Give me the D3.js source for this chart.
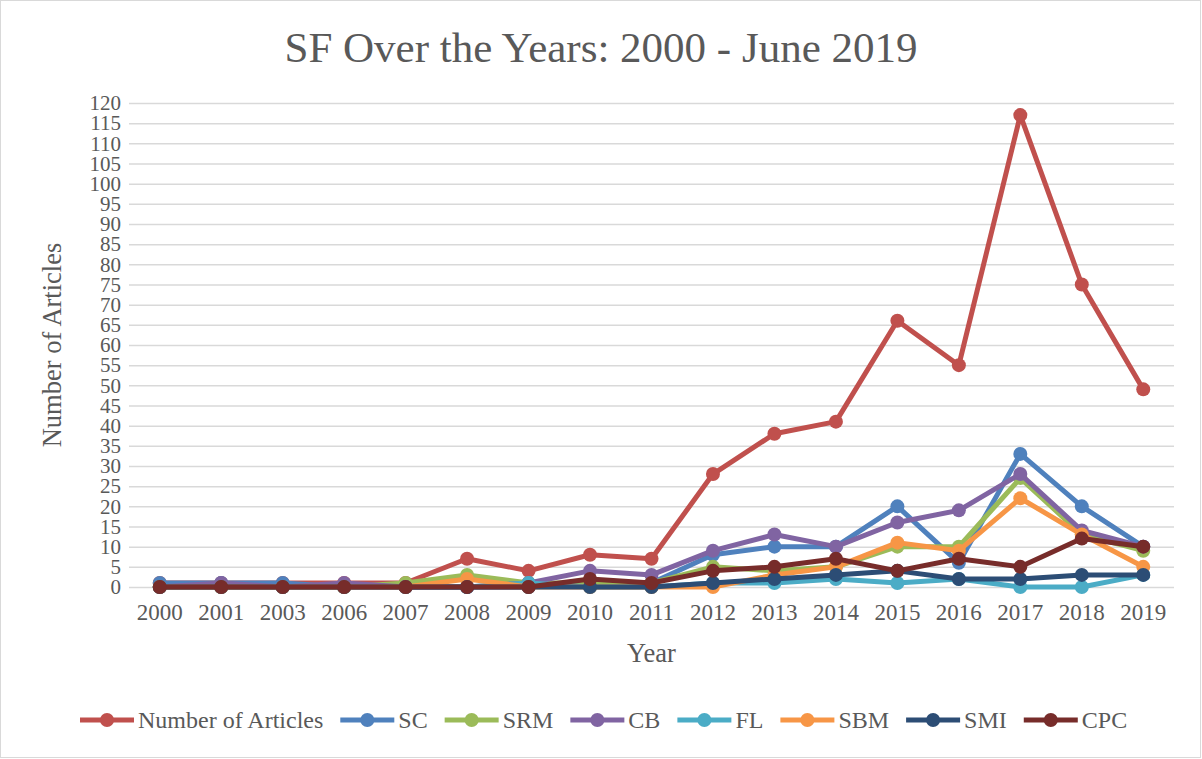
<!DOCTYPE html>
<html>
<head>
<meta charset="utf-8">
<script src="https://cdn.jsdelivr.net/npm/d3@7"></script>
<style>
  body { margin: 0; background: #fff; }
  svg { display: block; font-family: "Liberation Serif", "Times New Roman", serif; }
  .axis .domain { display: none; }
  .axis text { fill: #595959; font-family: "Liberation Serif", serif; }
</style>
</head>
<body>
<div id="chart"></div>
<script>
'use strict';

var years = ['2000', '2001', '2003', '2006', '2007', '2008', '2009', '2010', '2011',
    '2012', '2013', '2014', '2015', '2016', '2017', '2018', '2019'];
var seriesNames = ['Number of Articles', 'SC', 'SRM', 'CB', 'FL', 'SBM', 'SMI', 'CPC'];
var seriesColors = ['#C0504D', '#4F81BD', '#9BBB59', '#8064A2', '#4BACC6', '#F79646', '#2C4D75', '#772C2A'];

var numberOfArticles = [1, 1, 1, 1, 1, 7, 4, 8, 7, 28, 38, 41, 66, 55, 117, 75, 49];
var sc  = [1, 1, 1, 0, 0, 0, 0, 1, 1, 8, 10, 10, 20, 6, 33, 20, 10];
var srm = [0, 0, 0, 0, 1, 3, 1, 1, 1, 5, 4, 5, 10, 10, 27, 13, 9];
var cb  = [0, 1, 0, 1, 0, 0, 1, 4, 3, 9, 13, 10, 16, 19, 28, 14, 10];
var fl  = [0, 0, 0, 0, 0, 0, 1, 0, 0, 1, 1, 2, 1, 2, 0, 0, 3];
var sbm = [0, 0, 0, 0, 0, 2, 0, 0, 0, 0, 3, 5, 11, 9, 22, 13, 5];
var smi = [0, 0, 0, 0, 0, 0, 0, 0, 0, 1, 2, 3, 4, 2, 2, 3, 3];
var cpc = [0, 0, 0, 0, 0, 0, 0, 2, 1, 4, 5, 7, 4, 7, 5, 12, 10];

var yTicks = d3.range(0, 121, 5);

var seriesValues = [numberOfArticles, sc, srm, cb, fl, sbm, smi, cpc];

var W = 1202, H = 759;
var plot = { left: 129, right: 1174, top: 103, bottom: 587 };
var textColor = '#595959';

var svg = d3.select('#chart').append('svg').attr('width', W).attr('height', H);

svg.append('rect')
    .attr('x', 0.5).attr('y', 0.5)
    .attr('width', W - 2).attr('height', H - 2)
    .attr('fill', '#fff').attr('stroke', '#D9D9D9').attr('stroke-width', 1);

var x = d3.scaleBand().domain(years).range([plot.left, plot.right]).padding(0);
var y = d3.scaleLinear().domain([0, 120]).range([plot.bottom, plot.top]);

function cx(d) { return x(d) + x.bandwidth() / 2; }

// gridlines + y labels
var yAxis = svg.append('g')
    .attr('class', 'axis')
    .attr('transform', 'translate(' + plot.left + ',0)')
    .call(d3.axisLeft(y).tickValues(yTicks).tickSize(-(plot.right - plot.left)).tickPadding(8));
yAxis.selectAll('.tick line').attr('stroke', '#D9D9D9').attr('stroke-width', 1.5);
yAxis.selectAll('text').style('font-size', '21px');

// x labels
var xAxis = svg.append('g')
    .attr('class', 'axis')
    .attr('transform', 'translate(0,' + plot.bottom + ')')
    .call(d3.axisBottom(x).tickSize(0).tickPadding(17));
xAxis.selectAll('text').style('font-size', '23px');

// title
svg.append('text')
    .attr('x', 601).attr('y', 62)
    .attr('text-anchor', 'middle')
    .attr('fill', textColor)
    .style('font-size', '43px')
    .text('SF Over the Years: 2000 - June 2019');

// axis titles
svg.append('text')
    .attr('x', (plot.left + plot.right) / 2).attr('y', 662)
    .attr('text-anchor', 'middle')
    .attr('fill', textColor)
    .style('font-size', '26.5px')
    .text('Year');

svg.append('text')
    .attr('transform', 'translate(61,' + 345 + ') rotate(-90)')
    .attr('text-anchor', 'middle')
    .attr('fill', textColor)
    .style('font-size', '26.5px')
    .text('Number of Articles');

// series
var line = d3.line()
    .x(function (d, i) { return cx(years[i]); })
    .y(function (d) { return y(d); });

seriesValues.forEach(function (vals, k) {
    var g = svg.append('g').attr('class', 'series');
    g.append('path')
        .datum(vals)
        .attr('d', line)
        .attr('fill', 'none')
        .attr('stroke', seriesColors[k])
        .attr('stroke-width', 5)
        .attr('stroke-linejoin', 'round');
    g.selectAll('circle')
        .data(vals)
        .enter()
        .append('circle')
        .attr('cx', function (d, i) { return cx(years[i]); })
        .attr('cy', function (d) { return y(d); })
        .attr('r', 7)
        .attr('fill', seriesColors[k]);
});

// legend
var legend = svg.append('g').attr('class', 'legend');
var lx = 80, ly = 720;
seriesNames.forEach(function (name, k) {
    var item = legend.append('g');
    item.append('line')
        .attr('x1', lx).attr('x2', lx + 54)
        .attr('y1', ly).attr('y2', ly)
        .attr('stroke', seriesColors[k]).attr('stroke-width', 5);
    item.append('circle')
        .attr('cx', lx + 27).attr('cy', ly).attr('r', 7)
        .attr('fill', seriesColors[k]);
    var t = item.append('text')
        .attr('x', lx + 58).attr('y', ly + 8)
        .attr('fill', textColor)
        .style('font-size', '24px')
        .text(name);
    lx += 58 + t.node().getComputedTextLength() + 17;
});
</script>
</body>
</html>
